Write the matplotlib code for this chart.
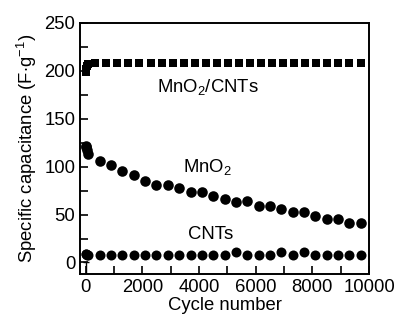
import matplotlib
matplotlib.use("Agg")
import matplotlib.pyplot as plt
from matplotlib.ticker import MultipleLocator

plt.rcParams['font.family'] = ['Liberation Sans', 'DejaVu Sans']
plt.rcParams['mathtext.fontset'] = 'custom'
plt.rcParams['mathtext.rm'] = 'Liberation Sans'
plt.rcParams['mathtext.it'] = 'Liberation Sans'

# Data
comp_start_x = [0, 20, 50, 100]
comp_start_y = [199, 202, 205, 207]
comp_x = [340 + 390 * i for i in range(25)]
comp_y = [208] * 25

mno2_start_x = [0, 20, 50, 100]
mno2_start_y = [121, 120, 117, 113]
mno2_x = [500 + 400 * i for i in range(24)]
mno2_y = [105.5, 102, 95, 91.7, 84.7, 81, 81, 77.8, 73.3, 74, 69.8, 66.3,
          62.8, 63.9, 59.4, 59.4, 55.9, 52.4, 52.4, 49, 45.5, 45.5, 41.3, 41.3]

cnt_start_x = [0, 20, 50, 100]
cnt_start_y = [9, 8.5, 8, 8]
cnt_x = [500 + 400 * i for i in range(24)]
cnt_y = [8, 8, 8, 8, 8, 8, 8, 8, 8, 8, 8, 8, 11, 8, 8, 8, 11, 8, 11, 8, 8, 8, 8, 8]

fig = plt.figure(figsize=(3.97, 3.26), dpi=100)
ax = fig.add_axes([0.2015, 0.1595, 0.728, 0.7705])

ax.plot(comp_start_x + comp_x, comp_start_y + comp_y, 's', color='black', ms=5.8, mew=0)
ax.plot(mno2_start_x + mno2_x, mno2_start_y + mno2_y, 'o', color='black', ms=7.6, mew=0)
ax.plot(cnt_start_x + cnt_x, cnt_start_y + cnt_y, 'o', color='black', ms=7.2, mew=0)
# small error bar at first point
ax.plot([0, 0], [-12, 0], color='black', lw=1.0)
ax.plot([0], [0], marker='_', color='black', ms=5, mew=1.0)

ax.set_xlim(-200, 10000)
ax.set_ylim(-12, 250)
ax.xaxis.set_major_locator(MultipleLocator(2000))
ax.xaxis.set_minor_locator(MultipleLocator(1000))
ax.yaxis.set_major_locator(MultipleLocator(50))
ax.yaxis.set_minor_locator(MultipleLocator(25))
ax.tick_params(which='both', direction='in', top=False, right=False, width=1.2, labelsize=13.3)
ax.tick_params(which='major', length=6)
ax.tick_params(which='minor', length=6)
for s in ax.spines.values():
    s.set_linewidth(1.4)

ax.set_xlabel('Cycle number', fontsize=13.3, labelpad=1)
ax.set_ylabel('Specific capacitance (F$\\cdot$g$^{-1}$)', fontsize=13.3, labelpad=4)

ax.text(4300, 183, 'MnO$_2$/CNTs', fontsize=13.3, ha='center', va='center')
ax.text(4300, 100, 'MnO$_2$', fontsize=13.3, ha='center', va='center')
ax.text(4400, 29, 'CNTs', fontsize=13.3, ha='center', va='center')

fig.savefig('out.png', dpi=100)
